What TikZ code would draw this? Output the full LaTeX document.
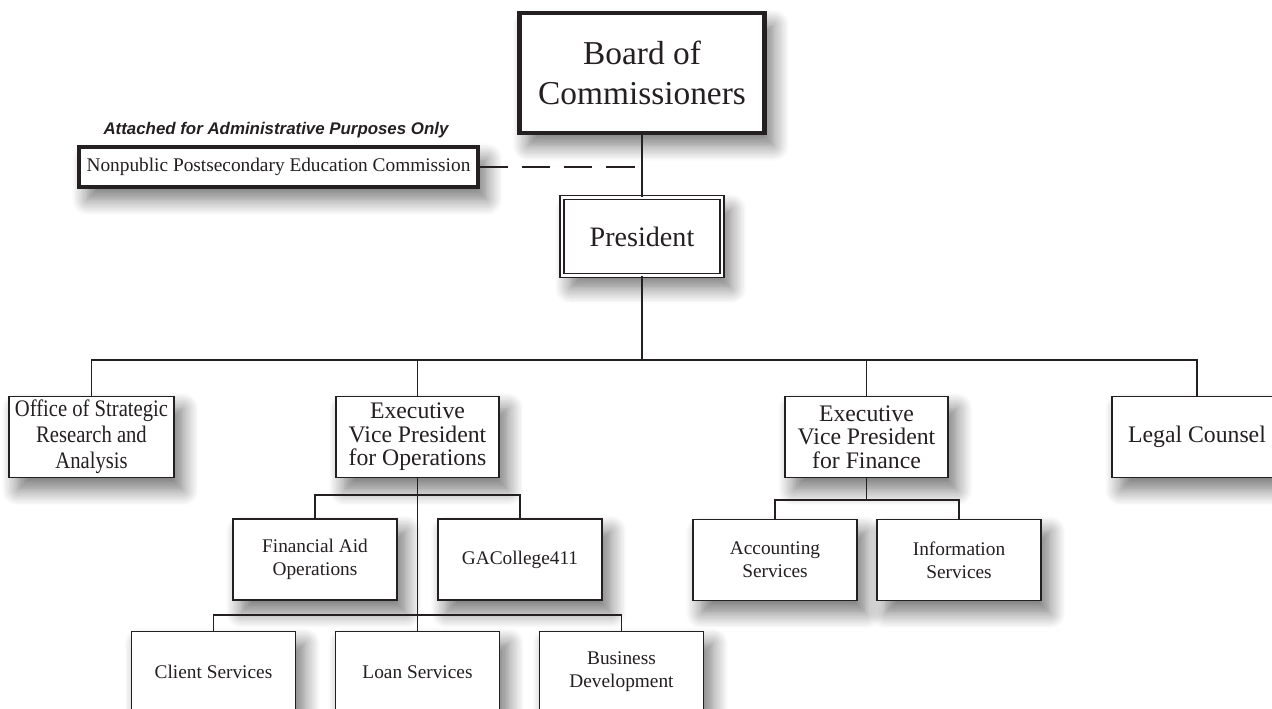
\documentclass[tikz,border=0pt]{standalone}
\usepackage{fontspec}
\setmainfont{Liberation Serif}
\newfontfamily\notefont{Liberation Sans}
\newfontfamily\narrowserif{Liberation Serif}[FakeStretch=0.87]
\usetikzlibrary{shadows.blur}

\definecolor{ink}{rgb}{.14,.12,.13}

\tikzset{
	unit/.style={draw=ink, text=ink, line width=0.8pt, fill=white, align=center, inner sep=1pt,
		blur shadow={shadow xshift=5pt, shadow yshift=-7pt, shadow blur radius=9pt, shadow blur steps=12, shadow opacity=55}},
	topunit/.style={unit, minimum width=3.26cm, minimum height=1.62cm, font=\fontsize{13.5}{13.3}\selectfont},
	subunit/.style={unit, minimum width=3.28cm, minimum height=1.62cm, font=\fontsize{11}{13}\selectfont},
	link/.style={draw=ink, line width=0.8pt},
}

\begin{document}
\begin{tikzpicture}[x=0.02cm, y=-0.02cm]
	\useasboundingbox (0,0) rectangle (1272,709);

	% board and president
	\node[unit, line width=2.5pt, minimum width=4.9cm, minimum height=2.4cm,
		font=\fontsize{19}{22.7}\selectfont] (board) at (642,73) {Board of\\Commissioners};
	\node[unit, line width=0.7pt, double, double distance=1.6pt, minimum width=3.2cm, minimum height=1.56cm,
		font=\fontsize{16}{18}\selectfont] (pres) at (642,236.5) {President};

	% attached commission
	\node[unit, line width=2.2pt, minimum width=7.98cm, minimum height=0.8cm,
		font=\fontsize{11}{13}\selectfont] (npec) at (278.5,167) {Nonpublic Postsecondary Education Commission};
	\node[text=ink, font=\notefont\bfseries\itshape\fontsize{9.6}{11}\selectfont] (note) at (276,130)
		{Attached for Administrative Purposes Only};

	% second level
	\node[topunit, minimum width=3.3cm, font=\narrowserif\fontsize{13.5}{14.7}\selectfont] (office) at (91.5,437)
		{Office of Strategic\\Research and\\Analysis};
	\node[topunit] (opsvp) at (417.5,437) {Executive\\Vice President\\for Operations};
	\node[topunit] (finvp) at (866.5,437) {Executive\\Vice President\\for Finance};
	\node[topunit, minimum width=3.4cm] (legal) at (1197,437) {Legal Counsel};

	% under operations
	\node[subunit] (finaid) at (315,559.5) {Financial Aid\\Operations};
	\node[subunit] (gac) at (520,559.5) {GACollege411};
	\node[subunit] (client) at (213.5,672) {Client Services};
	\node[subunit] (loan) at (417.5,672) {Loan Services};
	\node[subunit] (bizdev) at (621.5,672) {Business\\Development};

	% under finance
	\node[subunit] (acct) at (775,560) {Accounting\\Services};
	\node[subunit] (info) at (959,560) {Information\\Services};

	\coordinate (bus) at (642,360);
	\coordinate (opsbus) at (417.5,495);
	\coordinate (lowbus) at (417.5,615);
	\coordinate (finbus) at (866.5,500);

	\draw[link] (board) -- (pres);
	\draw[link, dash pattern=on 16pt off 8pt] (npec.east) -- (npec.east -| board.south);
	\draw[link] (pres) -- (bus);
	\draw[link] (office.north) |- (bus) -| (legal.north);
	\draw[link] (opsvp.north) -- (opsvp.north |- bus);
	\draw[link] (finvp.north) -- (finvp.north |- bus);

	\draw[link] (opsvp) -- (loan);
	\draw[link] (finaid.north) |- (opsbus) -| (gac.north);
	\draw[link] (client.north) |- (lowbus) -| (bizdev.north);

	\draw[link] (finvp) -- (finbus);
	\draw[link] (acct.north) |- (finbus) -| (info.north);
\end{tikzpicture}
\end{document}
